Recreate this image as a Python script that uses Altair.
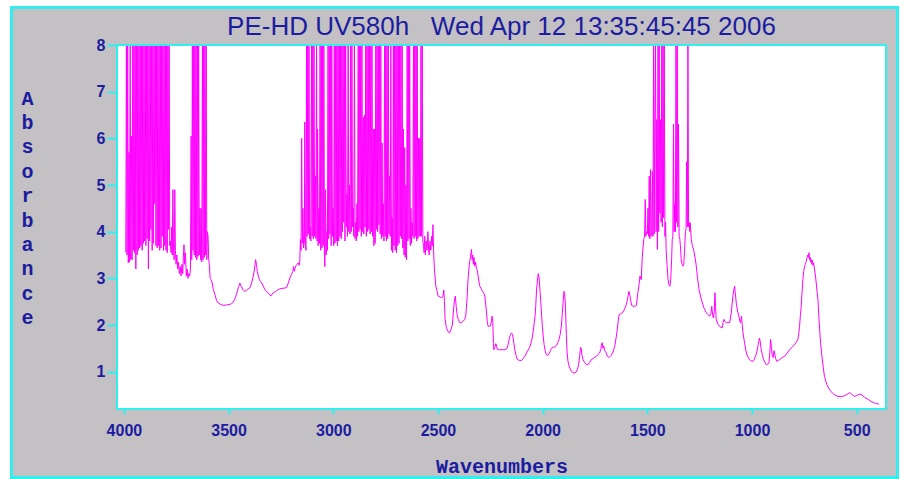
import altair as alt
import pandas as pd

TITLE = "PE-HD UV580h\u00a0\u00a0\u00a0Wed Apr 12 13:35:45:45 2006"
X_TITLE = "Wavenumbers"
Y_TITLE = list("Absorbance")
X_TICKS = [4000, 3500, 3000, 2500, 2000, 1500, 1000, 500]
Y_TICKS = [1, 2, 3, 4, 5, 6, 7, 8]
X_DOMAIN = [360, 4033]
Y_DOMAIN = [0.2, 8]

# region 3990-3595 (saturated, noisy)
SEG_A = [(3991,3.55),(3988,8),(3985,3.5),(3982,8),(3979,3.33),(3976,5.7),(3973,3.35),(3970,8),(3967,3.4),(3964,6.05),
         (3961,3.4),(3958,8),(3955,3.6),(3952,8),(3949,3.55),(3946,8),(3943,3.2),(3940,8),(3937,3.5),(3934,8),
         (3931,3.6),(3928,8),(3925,3.65),(3922,8),(3919,3.7),(3916,8),(3913,3.6),(3910,8),(3907,3.75),(3904,8),
         (3901,3.8),(3898,8),(3895,3.7),(3892,8),(3889,3.85),(3886,8),(3883,3.2),(3880,8),(3877,3.8),(3874,8),
         (3871,4.05),(3868,8),(3865,3.6),(3862,8),(3859,3.75),(3856,8),(3853,4.6),(3850,8),(3847,3.7),(3844,8),
         (3841,3.65),(3838,8),(3835,3.7),(3832,8),(3829,3.6),(3826,8),(3823,3.65),(3820,8),(3817,3.9),(3814,8),
         (3811,3.6),(3808,8),(3805,3.7),(3802,8),(3799,3.6),(3796,8),(3793,3.55),(3790,8),(3787,4.05),(3784,8),
         (3781,3.7),(3778,3.8),(3775,3.55),(3772,4.1),(3769,3.5),(3766,4.9),(3763,3.6),(3760,3.4),(3757,4.9),(3754,3.6),
         (3751,3.3),(3747,3.5),(3743,3.2),(3739,3.35),(3735,3.1),(3731,3.25),(3727,3.05),(3723,3.3),(3719,3.1),(3716,3.45),
         (3713,3.72),(3710,3.3),(3706,3.55),(3702,3.05),(3698,3.2),(3694,3.0),(3690,3.1),(3686,3.05),(3682,3.2),(3679,6.05),
         (3676,3.4),(3673,8),(3670,3.6),(3667,8),(3664,3.5),(3661,8),(3658,3.45),(3655,8),(3652,3.4),(3649,8),
         (3646,3.47),(3643,8),(3640,3.5),(3637,4.5),(3634,3.4),(3631,4.5),(3628,3.35),(3625,8),(3622,3.4),(3619,8),
         (3616,3.45),(3613,8),(3610,3.5),(3607,8),(3604,3.4),(3601,4.0),(3598,3.9),(3595,3.4)]

# region 3592-3160
SEG_B = [(3592,3.3),(3588,3.0),(3584,2.97),(3578,2.9),(3573,2.76),(3565,2.65),(3557,2.52),(3549,2.47),(3537,2.44),
         (3525,2.42),(3510,2.43),(3494,2.44),(3485,2.46),(3478,2.49),(3471,2.55),(3465,2.62),(3458,2.72),(3454,2.8),
         (3449,2.86),(3446,2.9),(3442,2.84),(3438,2.83),(3433,2.76),(3428,2.74),(3422,2.72),(3410,2.76),(3398,2.8),
         (3390,2.9),(3382,3.05),(3376,3.2),(3371,3.4),(3367,3.3),(3363,3.15),(3358,3.05),(3353,2.97),(3347,2.93),
         (3342,2.9),(3335,2.84),(3327,2.76),(3319,2.72),(3311,2.69),(3304,2.65),(3298,2.62),(3292,2.66),(3287,2.69),
         (3275,2.72),(3263,2.76),(3250,2.78),(3236,2.79),(3223,2.8),(3215,2.9),(3207,3.01),(3200,3.08),(3193,3.15),
         (3190,3.25),(3186,3.15),(3180,3.26),(3173,3.3),(3167,3.33),(3163,3.28),(3160,3.35)]

# region 3157-2521 (saturated, noisy)
SEG_C = [(3157,3.83),(3154,3.6),(3151,6.0),(3148,3.75),(3145,4.5),(3142,3.65),(3138,3.8),(3136,6.35),(3133,3.7),(3130,3.6),
         (3128,8),(3125,3.9),(3122,8),(3119,3.95),(3116,8),(3113,3.85),(3110,4.1),(3107,3.8),(3104,8),(3101,3.9),
         (3098,8),(3095,3.85),(3092,8),(3089,3.9),(3086,5.2),(3083,3.85),(3080,8),(3077,3.8),(3075,6.2),(3072,3.7),
         (3069,4.5),(3066,3.75),(3063,8),(3060,3.6),(3057,8),(3054,3.65),(3051,8),(3048,3.7),(3045,8),(3042,3.45),
         (3040,3.25),(3037,4.9),(3034,3.5),(3031,4.0),(3028,3.6),(3025,8),(3022,3.85),(3019,8),(3016,3.95),(3013,8),
         (3010,3.7),(3007,8),(3004,3.9),(3001,4.5),(2998,3.7),(2995,8),(2992,3.75),(2989,8),(2986,3.8),(2983,8),
         (2980,3.7),(2977,8),(2974,3.8),(2971,8),(2968,3.9),(2965,8),(2962,3.85),(2959,8),(2956,4.0),(2953,8),
         (2950,4.2),(2947,8),(2944,3.8),(2941,8),(2938,4.1),(2935,4.8),(2932,3.9),(2929,8),(2926,4.0),(2923,5.0),
         (2920,3.95),(2917,8),(2914,4.0),(2911,8),(2908,4.1),(2905,4.5),(2902,3.9),(2899,8),(2896,3.85),(2893,4.2),
         (2890,3.8),(2887,4.6),(2884,3.9),(2881,8),(2878,4.0),(2875,8),(2872,4.05),(2869,8),(2866,3.9),(2863,8),
         (2860,4.0),(2857,6.45),(2854,3.95),(2851,6.5),(2848,4.1),(2845,8),(2842,3.9),(2839,8),(2836,4.0),(2833,8),
         (2830,4.05),(2827,8),(2824,3.95),(2821,8),(2818,4.0),(2815,8),(2812,3.9),(2809,6.2),(2806,3.7),(2803,6.2),
         (2800,3.75),(2797,8),(2794,4.05),(2791,8),(2788,4.0),(2785,8),(2782,4.15),(2779,8),(2776,3.95),(2773,8),
         (2770,3.85),(2767,5.9),(2764,3.9),(2761,4.6),(2758,3.8),(2755,8),(2752,3.9),(2749,8),(2746,3.8),(2743,8),
         (2740,3.85),(2737,8),(2734,3.95),(2731,5.2),(2728,3.9),(2725,8),(2722,3.6),(2719,4.3),(2716,3.55),(2713,8),
         (2710,3.7),(2707,8),(2704,3.6),(2701,8),(2698,3.55),(2695,8),(2692,3.7),(2689,8),(2686,3.75),(2683,8),
         (2680,3.9),(2677,8),(2674,3.85),(2671,8),(2668,3.65),(2665,6.2),(2662,3.5),(2659,5.8),(2656,3.45),(2653,5.0),
         (2650,3.4),(2647,8),(2644,3.8),(2641,8),(2638,3.85),(2635,8),(2632,3.7),(2629,4.5),(2626,3.75),(2623,4.2),
         (2620,3.9),(2617,8),(2614,3.85),(2611,8),(2608,3.9),(2605,8),(2602,3.8),(2599,8),(2596,3.85),(2593,6.0),
         (2590,3.9),(2587,6.0),(2584,3.9),(2581,8),(2578,3.9),(2575,8),(2572,3.8),(2569,3.7),(2566,3.55),(2563,3.9),
         (2560,3.5),(2556,3.8),(2552,3.6),(2548,4.0),(2545,3.65),(2542,3.5),(2538,3.8),(2534,3.6),(2530,3.9),(2527,3.7),
         (2524,4.15),(2521,3.6)]

# region 2517-1535
SEG_D = [(2517,3.2),(2510,2.83),(2504,2.72),(2499,2.62),(2490,2.6),(2483,2.58),(2476,2.62),(2472,2.75),(2469,2.5),
         (2466,2.12),(2460,1.95),(2452,1.86),(2445,1.83),(2438,1.9),(2431,2.0),(2426,2.3),(2422,2.5),(2417,2.62),
         (2413,2.4),(2408,2.2),(2403,2.12),(2396,2.05),(2388,2.05),(2380,2.08),(2372,2.12),(2367,2.2),(2362,2.5),
         (2356,3.0),(2350,3.3),(2345,3.45),(2342,3.55),(2340,3.62),(2337,3.4),(2334,3.5),(2331,3.3),(2328,3.45),
         (2324,3.26),(2320,3.35),(2316,3.2),(2313,3.19),(2308,3.05),(2303,2.9),(2300,2.83),(2294,2.78),(2287,2.72),
         (2281,2.68),(2276,2.62),(2272,2.45),(2268,2.26),(2264,2.05),(2260,1.97),(2254,1.97),(2249,1.98),(2244,2.1),
         (2241,2.19),(2238,2.05),(2235,1.6),(2233,1.47),(2228,1.52),(2224,1.6),(2221,1.58),(2217,1.48),(2210,1.47),
         (2200,1.47),(2189,1.47),(2180,1.47),(2170,1.5),(2165,1.58),(2160,1.69),(2155,1.78),(2149,1.83),(2144,1.8),
         (2141,1.72),(2137,1.6),(2133,1.47),(2127,1.35),(2122,1.27),(2115,1.25),(2108,1.24),(2101,1.24),(2093,1.28),
         (2085,1.33),(2075,1.42),(2062,1.52),(2053,1.65),(2046,1.83),(2040,2.05),(2036,2.2),(2033,2.4),(2029,2.75),
         (2025,2.95),(2021,3.1),(2018,3.05),(2015,2.9),(2012,2.7),(2009,2.5),(2005,2.2),(2001,1.95),(1996,1.7),
         (1993,1.58),(1988,1.45),(1982,1.36),(1975,1.35),(1969,1.38),(1963,1.45),(1958,1.5),(1950,1.52),(1942,1.53),
         (1934,1.56),(1928,1.62),(1922,1.69),(1916,1.8),(1910,2.0),(1906,2.26),(1902,2.5),(1898,2.72),(1895,2.68),
         (1891,2.4),(1887,1.8),(1883,1.4),(1879,1.22),(1872,1.1),(1863,1.01),(1855,0.98),(1847,0.97),(1840,0.99),
         (1834,1.05),(1828,1.15),(1823,1.35),(1819,1.52),(1816,1.5),(1812,1.35),(1807,1.26),(1800,1.2),(1791,1.15),
         (1783,1.15),(1775,1.2),(1767,1.26),(1759,1.28),(1750,1.31),(1743,1.33),(1735,1.37),(1728,1.4),(1722,1.48),
         (1718,1.6),(1715,1.62),(1712,1.5),(1708,1.55),(1704,1.45),(1698,1.42),(1691,1.33),(1683,1.3),(1672,1.35),
         (1664,1.42),(1656,1.54),(1650,1.7),(1645,1.85),(1640,2.05),(1635,2.22),(1627,2.24),(1619,2.26),(1613,2.3),
         (1608,2.35),(1602,2.42),(1597,2.5),(1592,2.62),(1588,2.72),(1584,2.65),(1580,2.55),(1575,2.42),(1568,2.4),
         (1560,2.4),(1552,2.42),(1545,2.7),(1540,2.85),(1535,3.05)]

# region 1529-1290 (saturated, noisy)
SEG_E = [(1529,2.97),(1524,3.47),(1517,3.83),(1513,3.9),(1510,4.69),(1507,3.9),(1504,4.0),(1500,3.95),(1497,4.5),
         (1494,3.9),(1491,5.19),(1488,3.85),(1485,5.33),(1482,3.9),(1479,3.95),(1476,5.3),(1473,3.9),(1470,8),
         (1467,3.95),(1464,6.59),(1461,8),(1458,4.0),(1455,6.4),(1452,3.62),(1449,8),(1446,4.0),(1443,8),(1440,4.4),
         (1437,6.4),(1434,4.2),(1431,8),(1428,4.1),(1425,8),(1422,4.3),(1419,8),(1416,3.9),(1413,4.2),(1410,3.6),
         (1406,3.3),(1401,2.97),(1396,2.85),(1392,2.83),(1388,3.0),(1384,3.4),(1381,3.83),(1378,3.9),(1375,6.3),
         (1372,4.0),(1369,4.6),(1366,4.0),(1363,8),(1360,4.2),(1357,8),(1354,4.1),(1351,6.3),(1348,3.9),(1345,3.85),
         (1342,3.7),(1338,3.4),(1334,3.3),(1330,3.26),(1326,3.3),(1322,3.6),(1318,4.0),(1315,4.06),(1312,5.5),
         (1309,4.1),(1306,8),(1303,4.1),(1300,4.2),(1297,4.0),(1295,4.19),(1290,3.83)]

# region 1285-394
SEG_F = [(1285,3.7),(1279,3.62),(1272,3.45),(1266,3.26),(1260,3.0),(1253,2.76),(1245,2.6),(1237,2.47),(1228,2.35),
         (1218,2.26),(1210,2.22),(1202,2.19),(1196,2.25),(1192,2.4),(1188,2.2),(1184,2.15),(1180,2.3),(1177,2.69),
         (1174,2.4),(1171,2.12),(1163,2.02),(1155,1.97),(1148,1.95),(1142,1.94),(1138,2.05),(1134,2.12),(1129,2.08),
         (1123,2.05),(1115,2.05),(1107,2.05),(1103,2.15),(1099,2.26),(1095,2.45),(1091,2.62),(1087,2.75),(1083,2.83),
         (1080,2.7),(1075,2.47),(1069,2.3),(1063,2.19),(1058,2.08),(1055,2.05),(1050,2.19),(1047,2.0),(1043,1.83),
         (1035,1.6),(1027,1.4),(1020,1.32),(1012,1.26),(1004,1.23),(996,1.22),(990,1.26),(983,1.33),(977,1.42),
         (972,1.54),(968,1.64),(964,1.72),(960,1.62),(956,1.47),(950,1.35),(945,1.26),(938,1.2),(932,1.15),(925,1.16),
         (919,1.19),(915,1.4),(911,1.69),(907,1.5),(903,1.33),(899,1.3),(895,1.45),(892,1.4),(887,1.28),(881,1.22),
         (875,1.24),(868,1.26),(856,1.3),(844,1.33),(832,1.4),(821,1.47),(809,1.52),(797,1.58),(789,1.63),(781,1.69),
         (777,1.8),(773,1.97),(769,2.2),(765,2.4),(761,2.7),(757,2.97),(753,3.15),(749,3.26),(745,3.3),(741,3.36),
         (737,3.45),(733,3.5),(730,3.45),(728,3.55),(725,3.4),(722,3.45),(720,3.35),(717,3.4),(714,3.3),(711,3.38),
         (708,3.28),(706,3.33),(701,3.18),(697,3.05),(693,2.9),(689,2.7),(685,2.55),(681,2.2),(677,1.9),(672,1.6),
         (666,1.33),(660,1.1),(654,0.9),(648,0.8),(642,0.72),(632,0.63),(622,0.57),(610,0.52),(600,0.49),(590,0.47),
         (578,0.47),(566,0.47),(555,0.49),(545,0.52),(534,0.55),(525,0.52),(517,0.49),(510,0.47),(500,0.49),
         (490,0.51),(479,0.52),(470,0.48),(462,0.45),(455,0.43),(443,0.4),(431,0.36),(420,0.34),(410,0.32),
         (400,0.31),(394,0.31)]

rows = []
for seg in (SEG_A, SEG_B, SEG_C, SEG_D, SEG_E, SEG_F):
    rows.extend(seg)
df = pd.DataFrame(rows, columns=["wn", "absorbance"])
df["i"] = list(range(len(df)))

W, H = 769, 364
BLUE = "#1c1ca0"
CYAN = "#33eeee"
GRAY = "#c4c1c4"
MAGENTA = "#ff00ff"

one = pd.DataFrame({"k": [0]})

outer = alt.Chart(one).mark_rect(fill=GRAY, stroke=CYAN, strokeWidth=3).encode(
    x=alt.value(-105.5), x2=alt.value(780.5), y=alt.value(-37.5), y2=alt.value(432.5))
plot_bg = alt.Chart(one).mark_rect(fill="white").encode(
    x=alt.value(0), x2=alt.value(W), y=alt.value(0), y2=alt.value(H))

title = alt.Chart(one).mark_text(
    text=TITLE, font="Liberation Sans", fontSize=26, color=BLUE,
    align="center", baseline="middle").encode(x=alt.value(W / 2), y=alt.value(-18))

line = alt.Chart(df).mark_line(color=MAGENTA, strokeWidth=1, clip=True).encode(
    x=alt.X("wn:Q",
            scale=alt.Scale(domain=X_DOMAIN, reverse=True, nice=False, zero=False),
            axis=alt.Axis(values=X_TICKS, format="d", title=X_TITLE,
                          titleFont="Liberation Mono", titleFontSize=20, titleFontWeight="bold",
                          titleColor=BLUE, titleY=57, titleX=W / 2, titleBaseline="middle",
                          labelFont="Liberation Sans", labelFontSize=16, labelFontWeight="bold",
                          labelColor=BLUE, labelPadding=8, labelFlush=False, labelOverlap=False,
                          tickColor=CYAN, tickSize=5, tickWidth=2, domain=False, grid=False, zindex=1)),
    y=alt.Y("absorbance:Q",
            scale=alt.Scale(domain=Y_DOMAIN, nice=False, zero=False),
            axis=alt.Axis(values=Y_TICKS, format="d", title=Y_TITLE, titleAngle=0,
                          titleX=-90, titleY=53, titleAlign="center", titleBaseline="middle",
                          titleLineHeight=24.4,
                          titleFont="Liberation Mono", titleFontSize=20, titleFontWeight="bold",
                          titleColor=BLUE,
                          labelFont="Liberation Sans", labelFontSize=16, labelFontWeight="bold",
                          labelColor=BLUE, labelPadding=2, labelFlush=False, labelOverlap=False,
                          tickColor=CYAN, tickSize=10, tickWidth=2, domain=False, grid=False, zindex=1)),
    order=alt.Order("i:Q"))

plot_frame = alt.Chart(one).mark_rect(fill="transparent", stroke=CYAN, strokeWidth=2).encode(
    x=alt.value(0), x2=alt.value(W), y=alt.value(0), y2=alt.value(H))

chart = alt.layer(outer, plot_bg, line, plot_frame, title).properties(
    width=W, height=H,
    autosize=alt.AutoSizeParams(type="none"),
    padding={"left": 117, "top": 45, "right": 23, "bottom": 70},
).configure(background="white").configure_view(strokeWidth=0)

chart.save("out.html", embed_options={"renderer": "svg", "actions": False})
